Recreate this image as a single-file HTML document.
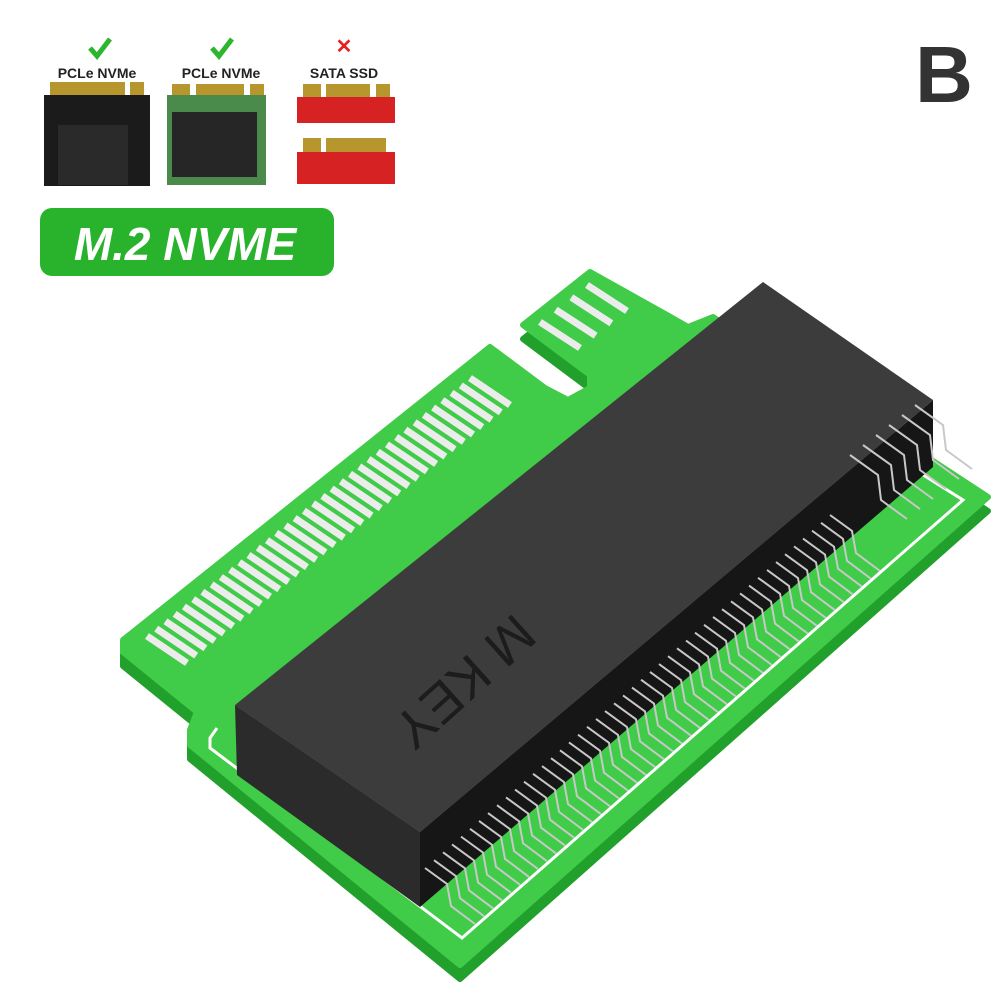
<!DOCTYPE html>
<html><head><style>body{margin:0;background:#fff}svg{display:block}</style></head><body>
<svg width="1002" height="1002" viewBox="0 0 1002 1002" xmlns="http://www.w3.org/2000/svg" font-family="Liberation Sans, sans-serif">
<rect width="1002" height="1002" fill="#fff"/>
<!-- top icons -->
<path d="M90,48 l7,8 l13,-17" stroke="#2db52d" stroke-width="5" fill="none"/>
<path d="M212,48 l7,8 l13,-17" stroke="#2db52d" stroke-width="5" fill="none"/>
<text x="344" y="53" font-size="20" font-weight="bold" fill="#e62020" text-anchor="middle">✕</text>
<text x="97" y="78" font-size="14" font-weight="bold" fill="#222" text-anchor="middle">PCLe NVMe</text>
<text x="221" y="78" font-size="14" font-weight="bold" fill="#222" text-anchor="middle">PCLe NVMe</text>
<text x="344" y="78" font-size="14" font-weight="bold" fill="#222" text-anchor="middle">SATA SSD</text>
<rect x="44" y="95" width="106" height="91" fill="#1b1b1b"/>
<rect x="50" y="82" width="75" height="13" fill="#b8962e"/><rect x="130" y="82" width="14" height="13" fill="#b8962e"/>
<rect x="58" y="125" width="70" height="60" fill="#2a2a2a"/>
<rect x="167" y="95" width="99" height="90" fill="#4a8a4a"/>
<rect x="172" y="84" width="18" height="11" fill="#b8962e"/><rect x="196" y="84" width="48" height="11" fill="#b8962e"/><rect x="250" y="84" width="14" height="11" fill="#b8962e"/>
<rect x="172" y="112" width="85" height="65" fill="#262626"/>
<rect x="297" y="97" width="98" height="26" fill="#d62222"/>
<rect x="303" y="84" width="18" height="13" fill="#b8962e"/><rect x="326" y="84" width="44" height="13" fill="#b8962e"/><rect x="376" y="84" width="14" height="13" fill="#b8962e"/>
<rect x="297" y="152" width="98" height="32" fill="#d62222"/>
<rect x="303" y="138" width="18" height="14" fill="#b8962e"/><rect x="326" y="138" width="60" height="14" fill="#b8962e"/>
<rect x="40" y="208" width="294" height="68" rx="12" fill="#29b22c"/>
<text x="185" y="260" font-size="46" font-weight="bold" font-style="italic" fill="#fff" text-anchor="middle">M.2 NVME</text>
<text x="944" y="102" font-size="80" font-weight="bold" fill="#333" text-anchor="middle">B</text>
<!-- board thickness -->
<g transform="translate(0,14)">
<path d="M123,640 L490,347 L545,388 L568,400 L590,388 L590,375 L523,325 L590,272 L667,315 L688,327 L713,317 L988,497 L460,965 L190,745 L190,730 L197,712 L123,652 Z" fill="#22a02c" stroke="#22a02c" stroke-width="6" stroke-linejoin="round"/>
</g>
<!-- board top -->
<path d="M123,640 L490,347 L545,388 L568,400 L590,388 L590,375 L523,325 L590,272 L667,315 L688,327 L713,317 L988,497 L460,965 L190,745 L190,730 L197,712 L123,652 Z" fill="#40cb48" stroke="#40cb48" stroke-width="6" stroke-linejoin="round"/>
<g id="stripes"></g>
<polyline points="217,728 210,738 210,748 462,938 963,500 920,473" fill="none" stroke="#fff" stroke-width="3"/>
<!-- connector -->
<path d="M235,705 L420,832 L420,907 L237,775 Z" fill="#2b2b2b"/>
<path d="M420,832 L933,400 L933,467 L420,907 Z" fill="#161616"/>
<path d="M235,705 L763,282 L933,400 L420,832 Z" fill="#3c3c3c"/>
<g id="pins"></g>
<text x="452" y="668" font-size="54" fill="#1c1c1c" text-anchor="middle" transform="rotate(138 452 668)">M KEY</text>
</svg>
<script>
(function(){
var ns="http://www.w3.org/2000/svg";
var s=document.getElementById("stripes");
function st(x,y,dx,dy){var l=document.createElementNS(ns,"line");l.setAttribute("x1",x);l.setAttribute("y1",y);l.setAttribute("x2",x+dx);l.setAttribute("y2",y+dy);l.setAttribute("stroke","#ececec");l.setAttribute("stroke-width","7");s.appendChild(l);}
for(var i=0;i<36;i++){var t=i/35;st(147+(470-147)*t,636+(378-636)*t,40,27);}
for(var i=0;i<4;i++){var t=i/3;st(540+(587-540)*t,322+(285-322)*t,40,26);}
var p=document.getElementById("pins");
for(var i=0;i<46;i++){var t=i/45;var x=425+(830-425)*t,y=868+(515-868)*t;
var a=document.createElementNS(ns,"path");a.setAttribute("d","M"+x+","+y+" l22,16 l4,22 l24,18");a.setAttribute("stroke","#c8c8c8");a.setAttribute("stroke-width","2");a.setAttribute("fill","none");p.appendChild(a);}
for(var i=0;i<6;i++){var x=850+i*13,y=455-i*10;var a=document.createElementNS(ns,"path");a.setAttribute("d","M"+x+","+y+" l28,20 l3,25 l26,19");a.setAttribute("stroke","#c8c8c8");a.setAttribute("stroke-width","2");a.setAttribute("fill","none");p.appendChild(a);}
})();
</script>
</body></html>
